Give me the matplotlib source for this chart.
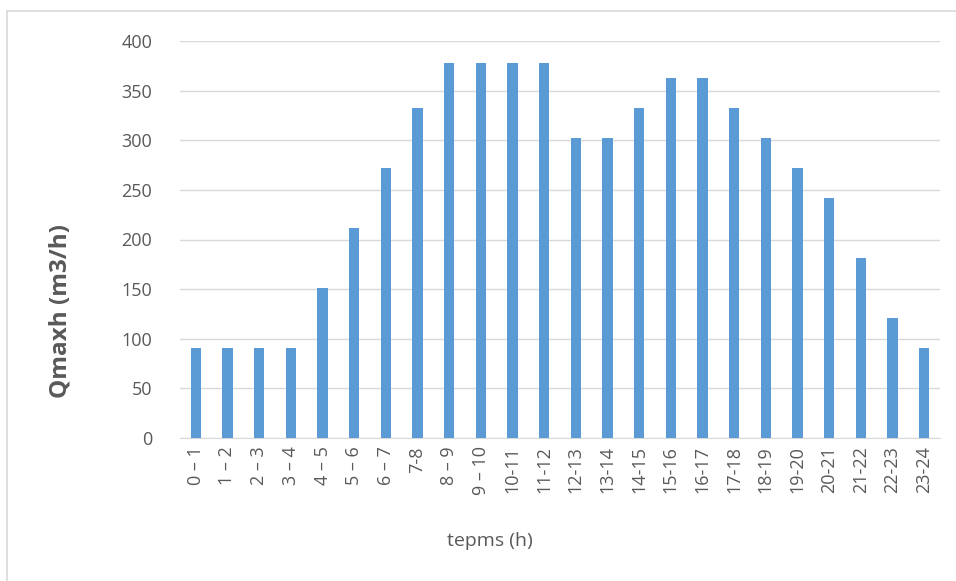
import matplotlib
matplotlib.use("Agg")
import matplotlib.pyplot as plt
from matplotlib.lines import Line2D

categories = ["0 – 1", "1 – 2", "2 – 3", "3 – 4", "4 – 5", "5 – 6", "6 – 7", "7-8",
              "8 – 9", "9 – 10", "10-11", "11-12", "12-13", "13-14", "14-15", "15-16",
              "16-17", "17-18", "18-19", "19-20", "20-21", "21-22", "22-23", "23-24"]
values = [90.6, 90.6, 90.6, 90.6, 151.0, 211.4, 271.8, 332.2,
          377.5, 377.5, 377.5, 377.5, 302.0, 302.0, 332.2, 362.4,
          362.4, 332.2, 302.0, 271.8, 241.6, 181.2, 120.8, 90.6]
yticks = [0, 50, 100, 150, 200, 250, 300, 350, 400]

plt.rcParams['font.family'] = ['Open Sans', 'DejaVu Sans']

W, H = 956, 581
fig = plt.figure(figsize=(W / 100, H / 100), dpi=100)
ax = fig.add_axes([180 / W, 1 - 438 / H, 760 / W, 397 / H])

x = range(len(categories))
ax.bar(x, values, width=0.32, color="#5B9BD5", zorder=3)
ax.set_xlim(-0.5, len(categories) - 0.5)
ax.set_ylim(0, 400)
ax.set_yticks(yticks)
ax.set_xticks(list(x))
ax.set_xticklabels(categories, rotation=90, fontsize=13, color="#595959")
ax.tick_params(axis='y', labelsize=13, labelcolor="#595959", length=0, pad=20)
ax.tick_params(axis='x', length=0, pad=6)
ax.grid(axis='y', color="#D9D9D9", linewidth=1, zorder=0)
for s in ["top", "right", "left"]:
    ax.spines[s].set_visible(False)
ax.spines["bottom"].set_color("#D9D9D9")

ax.set_ylabel("Qmaxh (m3/h)", fontsize=17.5, fontweight="bold", color="#595959")
ax.yaxis.set_label_coords(-0.141, 0.32)
ax.set_xlabel("tepms (h)", fontsize=14, color="#595959")
ax.xaxis.set_label_coords(0.408, -0.236)

# chart border
fig.add_artist(Line2D([7 / W, 1.0], [1 - 11 / H, 1 - 11 / H], color="#D9D9D9", linewidth=1.2))
fig.add_artist(Line2D([7 / W, 7 / W], [0.0, 1 - 11 / H], color="#D9D9D9", linewidth=1.2))

fig.savefig("out.png", dpi=100, facecolor="white")
